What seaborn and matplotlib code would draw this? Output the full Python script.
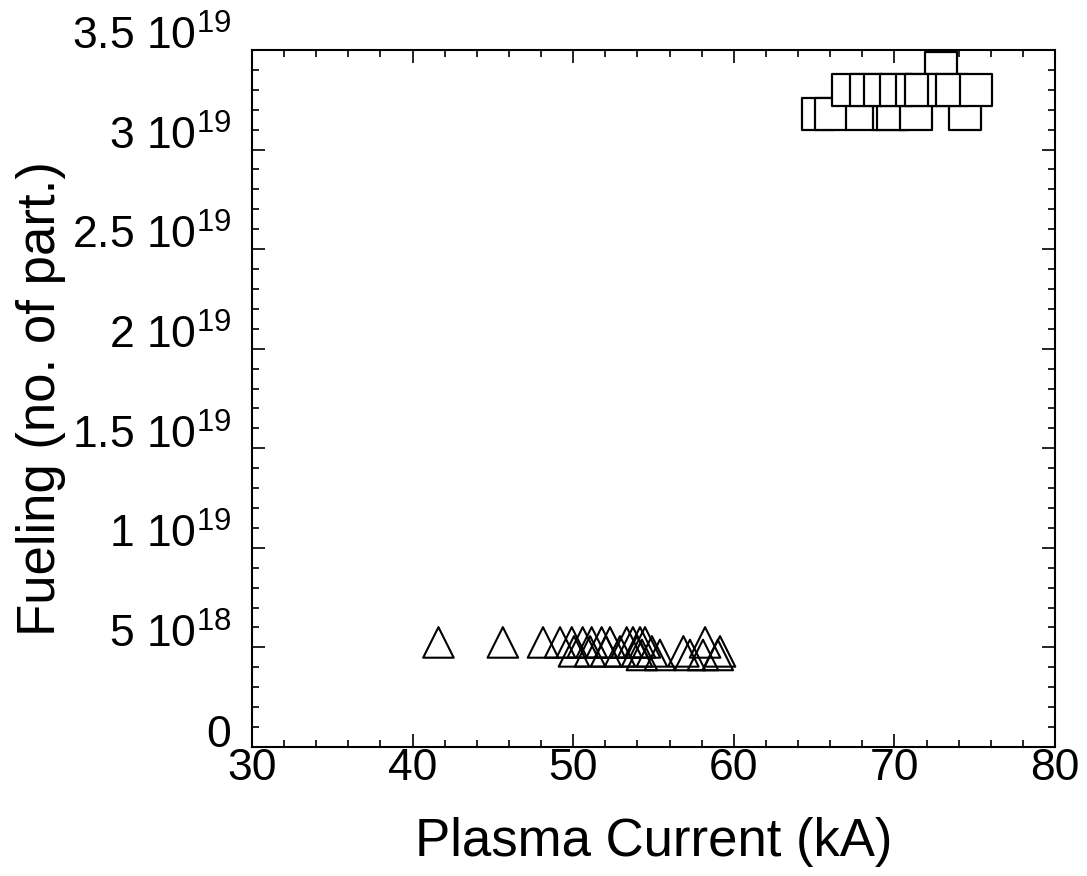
import matplotlib
matplotlib.use("Agg")
import matplotlib.pyplot as plt
import seaborn as sns
import pandas as pd
from matplotlib.ticker import MultipleLocator, FixedLocator, FixedFormatter

# ---- data ----
sq_current = [72.87,
              65.24, 66.05, 67.98, 69.66, 69.91, 71.34, 74.40,
              67.11, 68.23, 69.10, 70.10, 71.10, 71.66, 73.09, 73.60, 75.08]
sq_fueling = [3.41e19,
              3.18e19, 3.18e19, 3.18e19, 3.18e19, 3.18e19, 3.18e19, 3.18e19,
              3.30e19, 3.30e19, 3.30e19, 3.30e19, 3.30e19, 3.30e19, 3.30e19, 3.30e19, 3.30e19]

tri_current = [54.28, 55.40, 57.27, 58.08, 59.00,
               50.05, 51.05, 52.04, 52.91, 53.97, 54.90, 56.86, 59.14,
               41.61, 45.62, 48.12, 49.18, 49.91, 50.59, 51.15, 51.77, 52.29,
               53.33, 53.72, 54.16, 54.47, 58.21]
tri_fueling = [4.62e18, 4.62e18, 4.62e18, 4.62e18, 4.62e18,
               4.80e18, 4.80e18, 4.80e18, 4.80e18, 4.80e18, 4.80e18, 4.80e18, 4.80e18,
               5.25e18, 5.25e18, 5.25e18, 5.25e18, 5.25e18, 5.25e18, 5.25e18, 5.25e18, 5.25e18,
               5.25e18, 5.25e18, 5.25e18, 5.25e18, 5.25e18]

x_ticks = [30, 40, 50, 60, 70, 80]
y_ticks = [0, 5e18, 1e19, 1.5e19, 2e19, 2.5e19, 3e19, 3.5e19]
y_tick_labels = ["0", r"$\mathregular{5\ 10^{18}}$", r"$\mathregular{1\ 10^{19}}$",
                 r"$\mathregular{1.5\ 10^{19}}$", r"$\mathregular{2\ 10^{19}}$",
                 r"$\mathregular{2.5\ 10^{19}}$", r"$\mathregular{3\ 10^{19}}$",
                 r"$\mathregular{3.5\ 10^{19}}$"]

sq_df = pd.DataFrame({"current": sq_current, "fueling": sq_fueling})
tri_df = pd.DataFrame({"current": tri_current, "fueling": tri_fueling})

sns.set_style("ticks", {"xtick.direction": "in", "ytick.direction": "in"})
plt.rcParams["font.family"] = ["Liberation Sans", "DejaVu Sans"]
plt.rcParams["mathtext.fontset"] = "custom"
plt.rcParams["mathtext.rm"] = "Liberation Sans"
plt.rcParams["mathtext.it"] = "Liberation Sans:italic"
plt.rcParams["mathtext.bf"] = "Liberation Sans:bold"
for k in ["text.color", "axes.labelcolor", "xtick.color", "ytick.color",
          "axes.edgecolor"]:
    plt.rcParams[k] = "black"

fig = plt.figure(figsize=(10.87, 8.76), dpi=100)
ax = fig.add_axes([0.2318, 0.1473, 0.9706 - 0.2318, 0.9429 - 0.1473])

sns.scatterplot(data=tri_df, x="current", y="fueling", marker="^", s=22 ** 2,
                facecolor="none", edgecolor="black", linewidth=1.5, ax=ax,
                legend=False, zorder=3)
sns.scatterplot(data=sq_df, x="current", y="fueling", marker="s", s=23.5 ** 2,
                color="white", edgecolor="black", linewidth=1.6, ax=ax,
                legend=False, zorder=3)

ax.set_xlim(30, 80)
ax.set_ylim(0, 3.5e19)
ax.xaxis.set_major_locator(FixedLocator(x_ticks))
ax.xaxis.set_minor_locator(MultipleLocator(2))
ax.yaxis.set_major_locator(FixedLocator(y_ticks))
ax.yaxis.set_major_formatter(FixedFormatter(y_tick_labels))
ax.yaxis.set_minor_locator(MultipleLocator(1e18))
ax.yaxis.get_offset_text().set_visible(False)

ax.tick_params(which="both", direction="in", top=True, right=True, color="black",
               width=1.2)
ax.tick_params(which="major", length=9.5)
ax.tick_params(which="minor", length=5)
ax.tick_params(axis="x", which="major", labelsize=32, pad=1)
ax.tick_params(axis="y", which="major", labelsize=32, pad=15)
for lab in ax.get_yticklabels():
    lab.set_verticalalignment("baseline")

for sp in ax.spines.values():
    sp.set_linewidth(1.5)
    sp.set_color("black")

ax.set_xlabel("Plasma Current (kA)", fontsize=38, labelpad=20)
ax.set_ylabel("Fueling (no. of part.)", fontsize=38, labelpad=4)

fig.savefig("out.png", dpi=100, facecolor="white")
